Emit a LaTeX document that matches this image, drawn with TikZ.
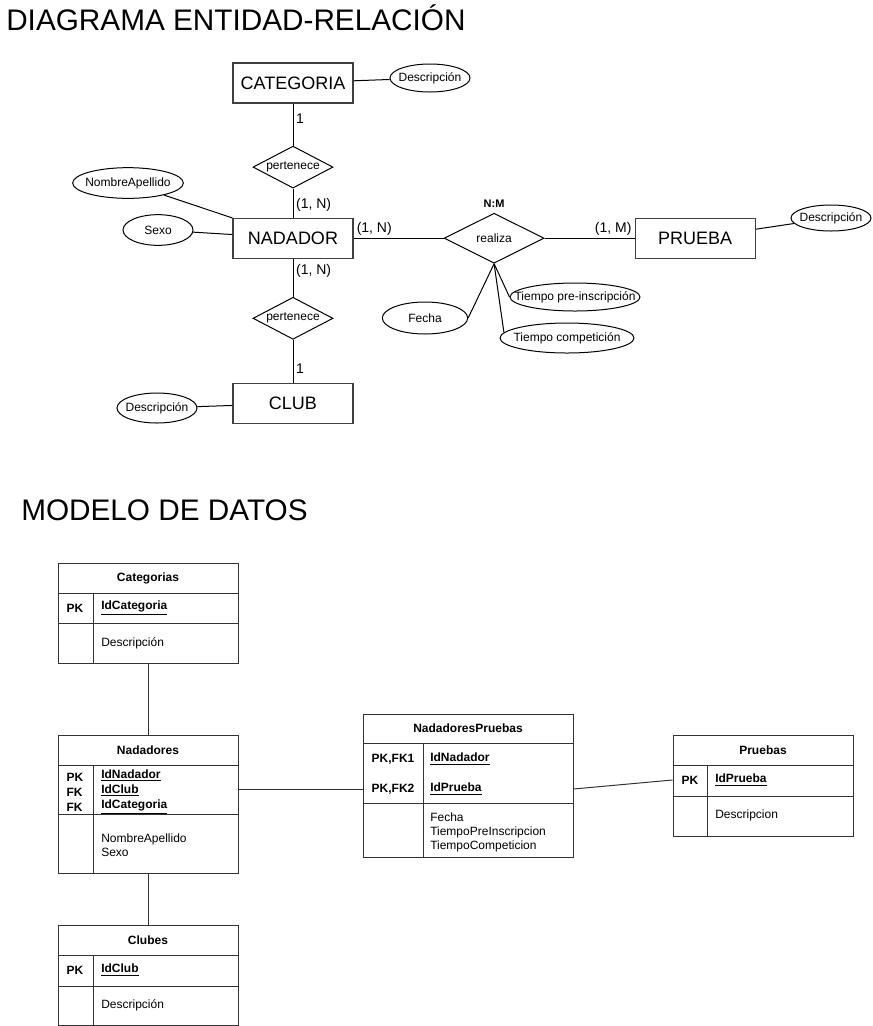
\documentclass[tikz,border=0pt]{standalone}
\usepackage{fontspec}
\setmainfont{Liberation Sans}
\usepackage{tikz}
\usetikzlibrary{positioning,shapes.geometric}
\newcommand{\atr}[1]{\makebox[0pt]{#1}}
\tikzset{
  titulo/.style={font=\fontsize{22.3}{26}\selectfont, inner sep=0pt},
  entidad/.style={draw=black!75, line width=0.9pt, minimum width=90pt, minimum height=30pt, inner sep=0pt, font=\fontsize{13.5}{16}\selectfont},
  relacion/.style={draw, diamond, aspect=2, line width=0.75pt, inner sep=0pt, minimum width=60pt, minimum height=31.5pt, font=\fontsize{9}{11}\selectfont},
  atributo/.style={draw, ellipse, line width=0.75pt, inner sep=0pt, font=\fontsize{9}{11}\selectfont},
  card/.style={font=\fontsize{10.5}{12}\selectfont, inner sep=2pt},
  enlace/.style={draw=black, line width=0.75pt},
  tabla/.style={draw=black!80, line width=0.75pt, inner sep=0pt, minimum width=135pt},
  rejilla/.style={draw=black!80, line width=0.75pt},
  cab/.style={font=\fontsize{9}{11}\selectfont\bfseries, inner sep=0pt},
  clave/.style={font=\fontsize{9}{11.25}\selectfont\bfseries, inner sep=0pt, align=left},
  campo/.style={font=\fontsize{9}{10.5}\selectfont, inner sep=0pt, align=left}
}

\begin{document}
\begin{tikzpicture}[x=0.75pt, y=-0.75pt]
  \useasboundingbox (0,0) rectangle (873,1026);

  % diagrama entidad-relacion
  \node[titulo, anchor=base west] (tituloER) at (6,30) {DIAGRAMA ENTIDAD-RELACIÓN};
  \node[entidad] (cat) at (293,83) {CATEGORIA};
  \node[relacion, below=31.5pt of cat] (per1) {pertenece};
  \node[entidad, below=21.75pt of per1] (nad) {NADADOR};
  \node[relacion, below=28.5pt of nad] (per2) {pertenece};
  \node[entidad, below=32.25pt of per2] (club) {CLUB};
  \node[relacion, right=67.5pt of nad, minimum width=75pt, minimum height=37.5pt] (real) {realiza};
  \node[entidad, right=67.5pt of real] (prueba) {PRUEBA};
  \node[card, font=\fontsize{8.25}{10}\selectfont\bfseries, above=2pt of real] (nm) {N:M};

  \node[atributo, minimum width=60pt, minimum height=21pt] (descCat) at (430,78) {\atr{Descripción}};
  \node[atributo, minimum width=83pt, minimum height=23pt] (nombre) at (128,183) {\atr{NombreApellido}};
  \node[atributo, minimum width=52.5pt, minimum height=23pt] (sexo) at (158,230) {\atr{Sexo}};
  \node[atributo, minimum width=60pt, minimum height=22.5pt] (descClub) at (157,408) {\atr{Descripción}};
  \node[atributo, minimum width=60pt, minimum height=19.5pt] (descPru) at (831,218) {\atr{Descripción}};
  \node[atributo, minimum width=64pt, minimum height=24pt] (fecha) at (425,318) {\atr{Fecha}};
  \node[atributo, minimum width=97.5pt, minimum height=21pt] (tpre) at (575,297) {\atr{Tiempo pre-inscripción}};
  \node[atributo, minimum width=100.5pt, minimum height=22.5pt] (tcomp) at (567,338) {\atr{Tiempo competición}};

  \draw[enlace] (cat) -- node[card, right, pos=0.35] {1} (per1);
  \draw[enlace] (per1) -- node[card, right, pos=0.57] {(1, N)} (nad);
  \draw[enlace] (nad) -- node[card, right, pos=0.33] {(1, N)} (per2);
  \draw[enlace] (per2) -- node[card, right, pos=0.66] {1} (club);
  \draw[enlace] (nad) -- node[card, pos=0, above right] {(1, N)} (real);
  \draw[enlace] (real) -- node[card, pos=1, above left] {(1, M)} (prueba);
  \draw[enlace] (cat) -- (descCat);
  \draw[enlace] (nombre) -- (nad);
  \draw[enlace] (sexo) -- (nad);
  \draw[enlace] (descClub) -- (club);
  \draw[enlace] (prueba) -- (descPru);
  \draw[enlace] (real.south) -- (fecha.east);
  \draw[enlace] (real.south) -- (tpre.west);
  \draw[enlace] (real.south) -- (tcomp.175);

  % modelo de datos
  \node[titulo, anchor=base west] (tituloMD) at (21,520) {MODELO DE DATOS};

  % Categorias
  \node[tabla, minimum height=75pt] (tCat) at (148,613) {};
  \draw[rejilla] (58,593) -- (238,593) (58,623) -- (238,623) (93,593) -- (93,663);
  \node[cab] (catH) at (148,578) {Categorias};
  \node[clave] (catPK) at (75,608) {PK};
  \node[clave, anchor=west] (catId) at (101,608) {\underline{IdCategoria}};
  \node[campo, anchor=west] (catDesc) at (101,643) {Descripción};

  % Nadadores
  \node[tabla, minimum height=103.5pt] (tNad) at (148,804) {};
  \draw[rejilla] (58,765) -- (238,765) (58,814) -- (238,814) (93,765) -- (93,873);
  \node[cab] (nadH) at (148,750) {Nadadores};
  \node[clave] (nadPK) at (75,792) {PK\\FK\\FK};
  \node[clave, anchor=west] (nadId) at (101,792) {\underline{IdNadador}\\\underline{IdClub}\\\underline{IdCategoria}};
  \node[campo, anchor=west] (nadAt) at (101,845.5) {NombreApellido\\Sexo};

  % Clubes
  \node[tabla, minimum height=75pt] (tClu) at (148,975) {};
  \draw[rejilla] (58,955) -- (238,955) (58,986) -- (238,986) (93,955) -- (93,1025);
  \node[cab] (cluH) at (148,940) {Clubes};
  \node[clave] (cluPK) at (75,970) {PK};
  \node[clave, anchor=west] (cluId) at (101,970) {\underline{IdClub}};
  \node[campo, anchor=west] (cluDesc) at (101,1005) {Descripción};

  % NadadoresPruebas
  \node[tabla, minimum width=157.5pt, minimum height=107.25pt] (tNP) at (468,785.5) {};
  \draw[rejilla] (363,743) -- (573,743) (363,803) -- (573,803) (423,743) -- (423,857);
  \node[cab] (npH) at (468,728) {NadadoresPruebas};
  \node[clave] (npK1) at (393,759) {PK,FK1};
  \node[clave] (npK2) at (393,789) {PK,FK2};
  \node[clave, anchor=west] (npId1) at (430,759) {\underline{IdNadador}};
  \node[clave, anchor=west] (npId2) at (430,789) {\underline{IdPrueba}};
  \node[campo, anchor=west] (npAt) at (430,832) {Fecha\\TiempoPreInscripcion\\TiempoCompeticion};

  % Pruebas
  \node[tabla, minimum height=75.75pt] (tPru) at (763,785.5) {};
  \draw[rejilla] (673,765) -- (853,765) (673,796) -- (853,796) (707,765) -- (707,836);
  \node[cab] (pruH) at (763,750) {Pruebas};
  \node[clave] (pruPK) at (690,780) {PK};
  \node[clave, anchor=west] (pruId) at (715,780) {\underline{IdPrueba}};
  \node[campo, anchor=west] (pruDesc) at (715,815) {Descripcion};

  \draw[rejilla] (tCat) -- (tNad);
  \draw[rejilla] (tNad) -- (tClu);
  \draw[rejilla] (tNad.east |- npK2) -- (tNP.west |- npK2);
  \draw[rejilla] (tNP.east |- npK2) -- (tPru.west |- pruPK);
\end{tikzpicture}
\end{document}
